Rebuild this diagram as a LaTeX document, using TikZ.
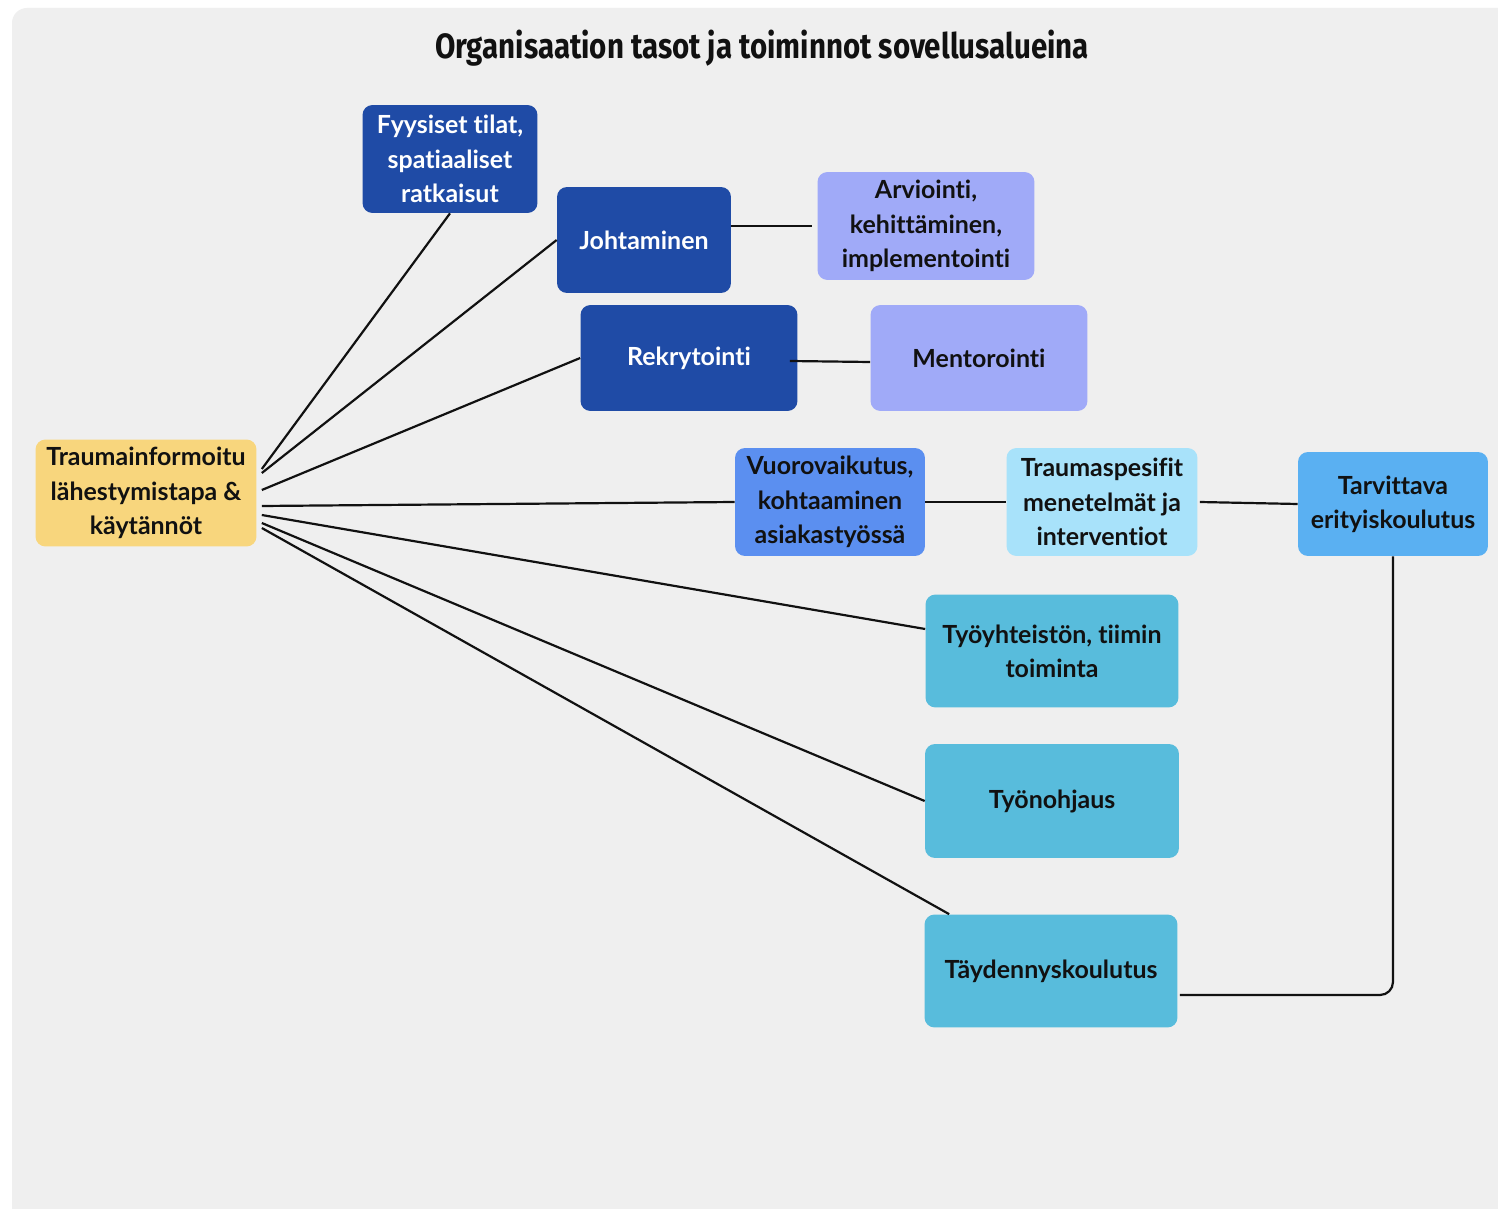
\documentclass[tikz,border=0pt]{standalone}
\usepackage{fontspec}
\setmainfont{Lato}[Ligatures=NoCommon]
\newfontfamily\titlefont{Fira Sans}[FakeStretch=0.84]
\definecolor{tausta}{HTML}{EFEFEF}
\definecolor{tummasin}{HTML}{1F4BA6}
\definecolor{lila}{HTML}{A0AAF8}
\definecolor{keltainen}{HTML}{F8D67D}
\definecolor{sininen}{HTML}{5B8FF0}
\definecolor{vaalea}{HTML}{A8E2FA}
\definecolor{taivas}{HTML}{5AB0F2}
\definecolor{turkoosi}{HTML}{58BCDC}
\definecolor{teksti}{HTML}{111111}
\tikzset{
  laatikko/.style={rounded corners=0.2cm, inner sep=0pt, align=center, text=teksti,
    font=\fontsize{14.2}{19.5}\selectfont\bfseries},
  tumma/.style={laatikko, fill=tummasin, text=white},
  viiva/.style={draw=teksti, line width=1.25pt},
}
\begin{document}
\begin{tikzpicture}[x=0.02cm, y=-0.02cm]
    \useasboundingbox (0,0) rectangle (1498,1209);
    \fill[white] (0,0) rectangle (1498,1209);
    \fill[tausta, rounded corners=0.3cm] (12,8) rectangle (1540,1250);

    \node[font=\titlefont\fontsize{20}{24}\selectfont\bfseries, text=teksti] (otsikko) at (762,48) {Organisaation tasot ja toiminnot sovellusalueina};

    % vasen laita
    \node[laatikko, fill=keltainen, minimum width=4.42cm, minimum height=2.14cm] (trauma) at (146,493) {Traumainformoitu\\lähestymistapa \&\\käytännöt};

    % ylaosa
    \node[tumma, minimum width=3.5cm, minimum height=2.16cm] (fyys) at (450,159) {Fyysiset tilat,\\spatiaaliset\\ratkaisut};
    \node[tumma, minimum width=3.48cm, minimum height=2.12cm] (johto) at (644,240) {Johtaminen};
    \node[laatikko, fill=lila, minimum width=4.34cm, minimum height=2.16cm] (arvi) at (926,226) {Arviointi,\\kehittäminen,\\implementointi};
    \node[tumma, minimum width=4.34cm, minimum height=2.12cm] (rekry) at (689,358) {Rekrytointi};
    \node[laatikko, fill=lila, minimum width=4.34cm, minimum height=2.12cm] (mento) at (979,358) {Mentorointi};

    % keskirivi
    \node[laatikko, fill=sininen, minimum width=3.8cm, minimum height=2.16cm] (vuoro) at (830,502) {Vuorovaikutus,\\kohtaaminen\\asiakastyössä};
    \node[laatikko, fill=vaalea, minimum width=3.82cm, minimum height=2.16cm] (tspes) at (1102,502) {Traumaspesifit\\menetelmät ja\\interventiot};
    \node[laatikko, fill=taivas, minimum width=3.8cm, minimum height=2.08cm] (tarvi) at (1393,504) {Tarvittava\\erityiskoulutus};

    % alaosa
    \node[laatikko, fill=turkoosi, minimum width=5.06cm, minimum height=2.26cm] (tyoyht) at (1052,651) {Työyhteistön, tiimin\\toiminta};
    \node[laatikko, fill=turkoosi, minimum width=5.08cm, minimum height=2.28cm] (tyonoh) at (1052,801) {Työnohjaus};
    \node[laatikko, fill=turkoosi, minimum width=5.06cm, minimum height=2.26cm] (tayd) at (1051,971) {Täydennyskoulutus};

    % yhteydet
    \draw[viiva] ([shift={(5,-24)}]trauma.east) -- (fyys.south);
    \draw[viiva] ([shift={(5,-20)}]trauma.east) -- (johto.west);
    \draw[viiva] ([shift={(5,-3)}]trauma.east) -- (rekry.west);
    \draw[viiva] ([shift={(5,13)}]trauma.east) -- (vuoro.west);
    \draw[viiva] ([shift={(5,22)}]trauma.east) -- ([shift={(0,-22)}]tyoyht.west);
    \draw[viiva] ([shift={(5,30)}]trauma.east) -- (tyonoh.west);
    \draw[viiva] ([shift={(5,35)}]trauma.east) -- ([shift={(25,0)}]tayd.north west);

    \draw[viiva] (johto.east |- arvi.west) -- ([shift={(-5,0)}]arvi.west);
    \draw[viiva] ([shift={(-8,3)}]rekry.east) -- ([shift={(0,4)}]mento.west);
    \draw[viiva] (vuoro.east) -- (tspes.west);
    \draw[viiva] ([shift={(2,0)}]tspes.east) -- (tarvi.west);
    \draw[viiva, rounded corners=0.26cm] ([shift={(2,24)}]tayd.east) -| (tarvi.south);
\end{tikzpicture}
\end{document}
